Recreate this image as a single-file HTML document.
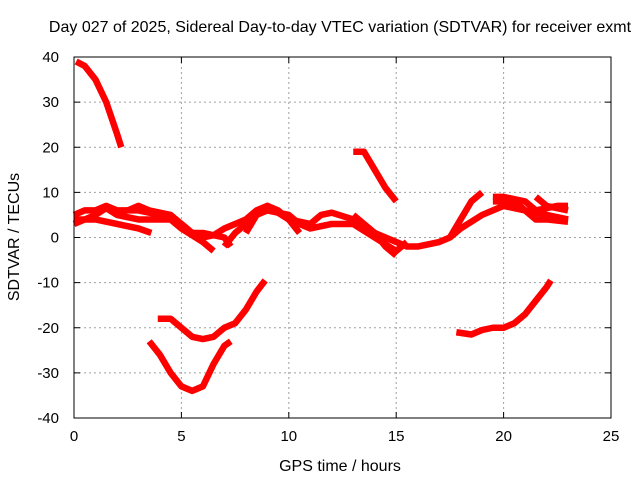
<!DOCTYPE html>
<html><head><meta charset="utf-8"><style>
body{margin:0;background:#fff}
svg{display:block;font-family:"Liberation Sans",sans-serif}
</style></head><body>
<svg id="chart" width="640" height="480">
<text x="340" y="32" text-anchor="middle" font-size="16">Day 027 of 2025, Sidereal Day-to-day VTEC variation (SDTVAR) for receiver exmt</text>
<text x="340" y="471" text-anchor="middle" font-size="16">GPS time / hours</text>
<text transform="translate(19,237) rotate(-90)" text-anchor="middle" font-size="16">SDTVAR / TECUs</text>
<g id="grid"></g><g id="series"></g><g id="axes"></g>
</svg>
<script>
const xTicks=[0,5,10,15,20,25];
const yTicks=[-40,-30,-20,-10,0,10,20,30,40];
const seriesA=[[0.1,39],[0.5,38],[1,35],[1.5,30],[2,23],[2.2,20]];
const seriesB=[[13,19],[13.5,19],[14,15],[14.5,11],[15,8]];
const seriesC=[[3.5,-23],[4,-26],[4.5,-30],[5,-33],[5.5,-34],[6,-33],[6.5,-28],[7,-24],[7.3,-23]];
const seriesD=[[3.9,-18],[4.5,-18],[5,-20],[5.5,-22],[6,-22.5],[6.5,-22],[7,-20],[7.5,-19],[8,-16],[8.5,-12],[8.9,-9.5]];
const seriesE=[[17.8,-21],[18.5,-21.5],[19,-20.5],[19.5,-20],[20,-20],[20.5,-19],[21,-17],[21.5,-14],[22,-11],[22.2,-9.5]];
const seriesM1=[[0,5],[0.5,6],[1,6],[1.5,7],[2,6],[3,6],[4,5],[5,3],[5.5,1],[6,0],[6.5,0.5],[7,2],[7.5,3],[8,4],[8.5,6],[9,7],[9.5,6],[10,4],[11,3],[11.5,5],[12,5.5],[13,4],[14,1],[15,-1],[15.5,-2],[16,-2],[17,-1],[17.5,0],[18,2],[19,5],[20,7],[21,6],[22,5],[23,4]];
const seriesM2=[[0,3],[1,5],[1.5,6.5],[2,5],[3,4],[4,4],[4.5,4],[5,2],[6,-1],[6.5,-3]];
const seriesM3=[[0,4],[1,4],[2,3],[3,2],[3.6,1]];
const seriesM4=[[2.5,6],[3,7],[3.5,6],[4.5,5],[5,3],[5.5,1],[6,1],[7,0],[7.3,-2]];
const seriesM5=[[7,-2],[7.5,1],[8,3],[8.5,5],[9,6],[10,5],[10.5,3],[11,2],[12,3],[13,3],[14,0],[15,-3],[15.5,-1]];
const seriesM6=[[8,1],[8.5,5],[9,7],[10,4],[10.5,1]];
const seriesM7=[[13,5],[14,1],[14.5,-2],[15,-4]];
const seriesM8=[[17.5,0],[18,4],[18.5,8],[19,10]];
const seriesM9=[[19.5,9],[20,9],[21,8],[21.5,6],[22,6.5],[22.5,7],[23,7]];
const seriesM10=[[19.5,8],[20.5,8],[21,6],[21.5,4],[22,4],[23,3.5]];
const seriesM11=[[21.5,9],[22,7],[22.5,6.5],[23,6]];
const allSeries=[seriesA,seriesB,seriesC,seriesD,seriesE,seriesM1,seriesM2,seriesM3,seriesM4,seriesM5,seriesM6,seriesM7,seriesM8,seriesM9,seriesM10,seriesM11];
const X0=74,X1=611,Y0=418,Y1=57;
const xs=v=>X0+(v-0)/(25-0)*(X1-X0);
const ys=v=>Y0-(v+40)/80*(Y0-Y1);
const NS="http://www.w3.org/2000/svg";
function mk(t,a,p){const e=document.createElementNS(NS,t);for(const k in a)e.setAttribute(k,a[k]);p.appendChild(e);return e;}
const grid=document.getElementById('grid'),axes=document.getElementById('axes'),ser=document.getElementById('series');
xTicks.forEach(t=>{const x=xs(t);
 if(t>0&&t<25){const g=mk('line',{x1:x,x2:x,y1:Y1,y2:Y0,stroke:'#a0a0a0','stroke-dasharray':'2,3'},grid);
 
 }
 mk('line',{x1:x,x2:x,y1:Y0,y2:Y0-6,stroke:'#000'},axes);mk('line',{x1:x,x2:x,y1:Y1,y2:Y1+6,stroke:'#000'},axes);
 const l=mk('text',{x:x,y:Y0+23,'text-anchor':'middle','font-size':15},axes);l.textContent=t;
 
 });
yTicks.forEach(t=>{const y=ys(t);
 if(t>-40&&t<40){const g=mk('line',{x1:X0,x2:X1,y1:y,y2:y,stroke:'#a0a0a0','stroke-dasharray':'2,3'},grid);
 
 }
 mk('line',{x1:X0,x2:X0+6,y1:y,y2:y,stroke:'#000'},axes);mk('line',{x1:X1,x2:X1-6,y1:y,y2:y,stroke:'#000'},axes);
 const l=mk('text',{x:X0-15,y:y+5,'text-anchor':'end','font-size':15},axes);l.textContent=t;
 
 });
const fr=mk('rect',{x:X0,y:Y1,width:X1-X0,height:Y0-Y1,fill:'none',stroke:'#000'},axes);


allSeries.forEach((s,i)=>{
 const p=mk('polyline',{points:s.map(d=>xs(d[0])+','+ys(d[1])).join(' '),fill:'none',stroke:'#ff0000','stroke-width':6.5,'stroke-linejoin':'round','stroke-linecap':'butt'},ser);
 
 
});
</script>
</body></html>
